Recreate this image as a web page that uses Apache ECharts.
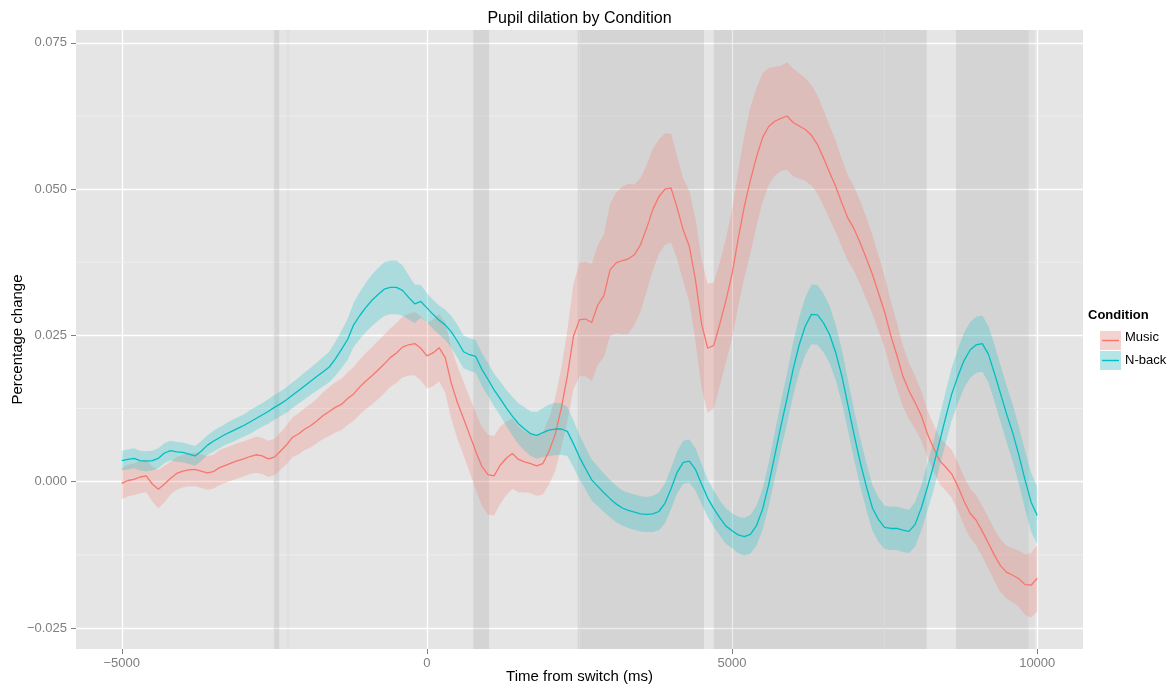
<!DOCTYPE html>
<html><head><meta charset="utf-8">
<script src="https://cdn.jsdelivr.net/npm/echarts@6/dist/echarts.min.js"></script>
<style>html,body{margin:0;padding:0;background:#fff}#c{width:1174px;height:686px}</style>
</head><body><div id="c"></div>
<script>
// ---- data ----
const times = [
-5000,-4900,-4800,-4700,-4600,-4500,-4400,-4300,-4200,-4100,
-4000,-3900,-3800,-3700,-3600,-3500,-3400,-3300,-3200,-3100,
-3000,-2900,-2800,-2700,-2600,-2500,-2400,-2300,-2200,-2100,
-2000,-1900,-1800,-1700,-1600,-1500,-1400,-1300,-1200,-1100,
-1000,-900,-800,-700,-600,-500,-400,-300,-200,-100,
0,100,200,300,400,500,600,700,800,900,
1000,1100,1200,1300,1400,1500,1600,1700,1800,1900,
2000,2100,2200,2300,2400,2500,2600,2700,2800,2900,
3000,3100,3200,3300,3400,3500,3600,3700,3800,3900,
4000,4100,4200,4300,4400,4500,4600,4700,4800,4900,
5000,5100,5200,5300,5400,5500,5600,5700,5800,5900,
6000,6100,6200,6300,6400,6500,6600,6700,6800,6900,
7000,7100,7200,7300,7400,7500,7600,7700,7800,7900,
8000,8100,8200,8300,8400,8500,8600,8700,8800,8900,
9000,9100,9200,9300,9400,9500,9600,9700,9800,9900,
10000];

const musicMean = [
-0.0003,0.0002,0.0004,0.0008,0.0010,-0.0004,-0.0013,-0.0004,0.0006,0.0014,
0.0018,0.0020,0.0021,0.0018,0.0015,0.0017,0.0024,0.0028,0.0032,0.0036,
0.0039,0.0043,0.0046,0.0044,0.0039,0.0042,0.0052,0.0063,0.0076,0.0082,
0.0090,0.0096,0.0104,0.0113,0.0120,0.0127,0.0132,0.0142,0.0150,0.0162,
0.0172,0.0181,0.0191,0.0201,0.0212,0.0220,0.0230,0.0234,0.0236,0.0228,
0.0215,0.0220,0.0229,0.0212,0.0168,0.0135,0.0108,0.0080,0.0052,0.0026,
0.0012,0.0010,0.0028,0.0040,0.0048,0.0038,0.0034,0.0031,0.0027,0.0031,
0.0052,0.0080,0.0125,0.0180,0.0248,0.0277,0.0278,0.0272,0.0302,0.0318,
0.0362,0.0374,0.0378,0.0381,0.0388,0.0405,0.0433,0.0465,0.0487,0.0500,
0.0502,0.0468,0.0430,0.0402,0.0345,0.0270,0.0228,0.0233,0.0270,0.0310,
0.0355,0.0415,0.0470,0.0515,0.0555,0.0588,0.0607,0.0616,0.0621,0.0625,
0.0614,0.0608,0.0602,0.0592,0.0576,0.0553,0.0528,0.0504,0.0476,0.0450,
0.0432,0.0408,0.0382,0.0354,0.0322,0.0290,0.0250,0.0216,0.0180,0.0155,
0.0135,0.0113,0.0082,0.0058,0.0036,0.0025,0.0013,-0.0008,-0.0033,-0.0054,
-0.0066,-0.0085,-0.0105,-0.0126,-0.0144,-0.0155,-0.0160,-0.0166,-0.0176,-0.0177,
-0.0165];

const musicSpread = [
0.0027,0.0027,0.0027,0.0028,0.0028,0.0030,0.0033,0.0031,0.0028,0.0028,
0.0028,0.0028,0.0029,0.0029,0.0029,0.0029,0.0030,0.0030,0.0030,0.0030,
0.0030,0.0030,0.0031,0.0031,0.0031,0.0031,0.0032,0.0033,0.0034,0.0035,
0.0036,0.0037,0.0038,0.0040,0.0042,0.0043,0.0044,0.0045,0.0046,0.0047,
0.0048,0.0049,0.0050,0.0050,0.0050,0.0051,0.0052,0.0053,0.0054,0.0055,
0.0056,0.0057,0.0058,0.0060,0.0061,0.0062,0.0063,0.0064,0.0066,0.0067,
0.0068,0.0068,0.0066,0.0063,0.0060,0.0056,0.0052,0.0051,0.0051,0.0053,
0.0057,0.0062,0.0068,0.0078,0.0090,0.0097,0.0098,0.0100,0.0102,0.0105,
0.0113,0.0120,0.0126,0.0128,0.0120,0.0114,0.0108,0.0104,0.0098,0.0095,
0.0093,0.0088,0.0088,0.0095,0.0105,0.0110,0.0110,0.0108,0.0105,0.0106,
0.0110,0.0115,0.0122,0.0125,0.0118,0.0110,0.0100,0.0093,0.0090,0.0092,
0.0092,0.0090,0.0088,0.0086,0.0084,0.0082,0.0080,0.0078,0.0075,0.0073,
0.0072,0.0071,0.0070,0.0067,0.0064,0.0061,0.0058,0.0056,0.0052,0.0048,
0.0045,0.0042,0.0040,0.0040,0.0040,0.0040,0.0041,0.0041,0.0042,0.0042,
0.0043,0.0043,0.0044,0.0044,0.0045,0.0045,0.0046,0.0048,0.0052,0.0055,
0.0057];

const nbackMean = [
0.0036,0.0038,0.0040,0.0036,0.0035,0.0036,0.0040,0.0049,0.0053,0.0051,
0.0050,0.0047,0.0044,0.0052,0.0062,0.0069,0.0075,0.0081,0.0086,0.0091,
0.0096,0.0102,0.0108,0.0114,0.0120,0.0127,0.0133,0.0140,0.0148,0.0156,
0.0164,0.0172,0.0180,0.0188,0.0196,0.0210,0.0226,0.0243,0.0268,0.0284,
0.0298,0.0310,0.0320,0.0329,0.0332,0.0332,0.0327,0.0315,0.0304,0.0308,
0.0297,0.0286,0.0276,0.0268,0.0256,0.0240,0.0222,0.0217,0.0214,0.0192,
0.0175,0.0157,0.0142,0.0126,0.0112,0.0099,0.0090,0.0082,0.0079,0.0084,
0.0088,0.0090,0.0090,0.0086,0.0065,0.0042,0.0022,0.0003,-0.0008,-0.0019,
-0.0029,-0.0038,-0.0045,-0.0049,-0.0052,-0.0055,-0.0056,-0.0055,-0.0051,-0.0037,
-0.0012,0.0016,0.0033,0.0035,0.0021,-0.0004,-0.0028,-0.0046,-0.0062,-0.0076,
-0.0084,-0.0091,-0.0094,-0.0090,-0.0075,-0.0047,-0.0005,0.0045,0.0095,0.0142,
0.0192,0.0234,0.0266,0.0286,0.0285,0.0271,0.0251,0.0220,0.0180,0.0130,
0.0080,0.0033,-0.0008,-0.0045,-0.0065,-0.0078,-0.0080,-0.0080,-0.0083,-0.0085,
-0.0073,-0.0045,-0.0010,0.0027,0.0068,0.0110,0.0150,0.0180,0.0207,0.0225,
0.0234,0.0236,0.0218,0.0185,0.0150,0.0115,0.0083,0.0045,0.0003,-0.0035,
-0.0058];

const nbackSpread = [
0.0017,0.0017,0.0017,0.0017,0.0017,0.0017,0.0017,0.0017,0.0017,0.0017,
0.0017,0.0017,0.0017,0.0017,0.0017,0.0018,0.0018,0.0018,0.0019,0.0019,
0.0019,0.0020,0.0020,0.0020,0.0021,0.0021,0.0021,0.0022,0.0022,0.0022,
0.0023,0.0023,0.0024,0.0025,0.0026,0.0029,0.0032,0.0035,0.0038,0.0040,
0.0042,0.0044,0.0045,0.0046,0.0046,0.0046,0.0043,0.0038,0.0033,0.0028,
0.0025,0.0025,0.0025,0.0026,0.0027,0.0028,0.0028,0.0028,0.0028,0.0028,
0.0028,0.0028,0.0029,0.0031,0.0033,0.0035,0.0037,0.0038,0.0040,0.0042,
0.0044,0.0045,0.0044,0.0042,0.0040,0.0038,0.0036,0.0035,0.0034,0.0033,
0.0032,0.0031,0.0030,0.0030,0.0030,0.0030,0.0030,0.0031,0.0032,0.0034,
0.0035,0.0036,0.0037,0.0037,0.0036,0.0034,0.0032,0.0031,0.0030,0.0030,
0.0030,0.0031,0.0032,0.0033,0.0034,0.0035,0.0037,0.0039,0.0041,0.0043,
0.0045,0.0047,0.0049,0.0051,0.0051,0.0050,0.0049,0.0047,0.0045,0.0043,
0.0042,0.0041,0.0040,0.0039,0.0038,0.0037,0.0037,0.0037,0.0037,0.0037,
0.0038,0.0039,0.0040,0.0042,0.0043,0.0044,0.0045,0.0046,0.0047,0.0048,
0.0048,0.0048,0.0048,0.0048,0.0048,0.0048,0.0049,0.0049,0.0050,0.0050,
0.0050];

// shaded time windows (ms)
const bandStart = [-2510, 760, 2470, 4700, 8670];
const bandEnd   = [-2420, 1020, 4540, 8190, 9860];
const faintStart = [-2300, 9860];
const faintEnd   = [-2250, 9960];

const xTicks = [-5000, 0, 5000, 10000];
const xMinor = [-2500, 2500, 7500];
const yTicks = [-0.025, 0, 0.025, 0.05, 0.075];
const yMinor = [-0.0125, 0.0125, 0.0375, 0.0625];
const seriesNames = ['Music', 'N-back'];

// ---- chart ----
const FONT = '"Liberation Sans", Arial, Helvetica, sans-serif';
const RED = '#F8766D', CYAN = '#00BFC4';
const RED_FILL = 'rgba(248,118,109,0.25)', CYAN_FILL = 'rgba(0,191,196,0.25)';
const X_MIN = -5750, X_MAX = 10750, Y_MIN = -0.0286, Y_MAX = 0.0772;

const n = Math.min(times.length, musicMean.length, musicSpread.length, nbackMean.length, nbackSpread.length);
function ribbonRows(mean, spread) {
  const rows = [];
  for (let i = 0; i < n; i++) rows.push([times[i], mean[i] - spread[i], mean[i] + spread[i]]);
  return rows;
}
const musicRows = ribbonRows(musicMean, musicSpread);
const nbackRows = ribbonRows(nbackMean, nbackSpread);

function ribbonRender(rows, fill) {
  return function (params, api) {
    if (params.dataIndex !== 0) return null;
    const pts = [];
    for (let i = 0; i < rows.length; i++) pts.push(api.coord([rows[i][0], rows[i][2]]));
    for (let i = rows.length - 1; i >= 0; i--) pts.push(api.coord([rows[i][0], rows[i][1]]));
    return { type: 'polygon', shape: { points: pts }, style: { fill: fill }, silent: true };
  };
}
function bandRender(fill) {
  return function (params, api) {
    const cs = params.coordSys;
    const a = api.coord([api.value(0), Y_MAX]);
    const b = api.coord([api.value(1), Y_MAX]);
    return { type: 'rect', shape: { x: a[0], y: cs.y, width: b[0] - a[0], height: cs.height }, style: { fill: fill }, silent: true };
  };
}
function vLineRender(params, api) {
  const cs = params.coordSys;
  const p = api.coord([api.value(0), Y_MAX]);
  return { type: 'line', shape: { x1: p[0], y1: cs.y, x2: p[0], y2: cs.y + cs.height }, style: { stroke: '#F0F0F0', lineWidth: 0.8 }, silent: true };
}
function hLineRender(params, api) {
  const cs = params.coordSys;
  const p = api.coord([X_MIN, api.value(1)]);
  return { type: 'line', shape: { x1: cs.x, y1: p[1], x2: cs.x + cs.width, y2: p[1] }, style: { stroke: '#F0F0F0', lineWidth: 0.8 }, silent: true };
}
const fmtY = v => (v < -1e-9 ? '\u2212' : '') + Math.abs(v).toFixed(3);
const fmtX = v => (v < 0 ? '\u2212' : '') + Math.abs(v);

const chart = echarts.init(document.getElementById('c'), null, { renderer: 'canvas' });
chart.setOption({
  animation: false,
  grid: { left: 76, right: 91, top: 30, bottom: 37, show: true, backgroundColor: '#E5E5E5', borderWidth: 0 },
  xAxis: {
    type: 'value', min: X_MIN, max: X_MAX,
    axisLine: { show: false, onZero: false },
    axisTick: { show: true, length: 5, customValues: xTicks, lineStyle: { color: '#7F7F7F', width: 1 } },
    axisLabel: { customValues: xTicks, formatter: fmtX, color: '#7F7F7F', fontSize: 13, fontFamily: FONT, margin: 8 },
    splitLine: { show: true, lineStyle: { color: '#FFFFFF', width: 1.3 } }
  },
  yAxis: {
    type: 'value', min: Y_MIN, max: Y_MAX,
    axisLine: { show: false, onZero: false },
    axisTick: { show: true, length: 5, customValues: yTicks, lineStyle: { color: '#7F7F7F', width: 1 } },
    axisLabel: { customValues: yTicks, formatter: fmtY, color: '#7F7F7F', fontSize: 13, fontFamily: FONT, margin: 9 },
    splitLine: { show: true, lineStyle: { color: '#FFFFFF', width: 1.3 } }
  },
  series: [
    { type: 'custom', z: 1, data: xMinor.map(v => [v, 0]), renderItem: vLineRender, silent: true },
    { type: 'custom', z: 1, data: yMinor.map(v => [0, v]), renderItem: hLineRender, silent: true },
    { type: 'custom', z: 2, data: bandStart.map((s, i) => [s, bandEnd[i]]), encode: { x: [0, 1] }, renderItem: bandRender('rgba(0,0,0,0.075)'), silent: true },
    { type: 'custom', z: 2, data: faintStart.map((s, i) => [s, faintEnd[i]]), encode: { x: [0, 1] }, renderItem: bandRender('rgba(0,0,0,0.025)'), silent: true },
    { type: 'custom', name: seriesNames[0] + ' band', z: 3, data: musicRows, encode: { x: 0, y: [1, 2] }, renderItem: ribbonRender(musicRows, RED_FILL), silent: true },
    { type: 'custom', name: seriesNames[1] + ' band', z: 3, data: nbackRows, encode: { x: 0, y: [1, 2] }, renderItem: ribbonRender(nbackRows, CYAN_FILL), silent: true },
    { type: 'line', name: seriesNames[0], z: 4, data: musicRows.map((r, i) => [r[0], musicMean[i]]), showSymbol: false, lineStyle: { color: RED, width: 1.3 }, itemStyle: { color: RED }, silent: true },
    { type: 'line', name: seriesNames[1], z: 4, data: nbackRows.map((r, i) => [r[0], nbackMean[i]]), showSymbol: false, lineStyle: { color: CYAN, width: 1.3 }, itemStyle: { color: CYAN }, silent: true }
  ],
  graphic: [
    { type: 'text', x: 579.5, y: 19, style: { text: 'Pupil dilation by Condition', fill: '#000', font: '16px ' + FONT, align: 'center', verticalAlign: 'middle' } },
    { type: 'text', x: 579.5, y: 677, style: { text: 'Time from switch (ms)', fill: '#000', font: '15px ' + FONT, align: 'center', verticalAlign: 'middle' } },
    { type: 'text', x: 18, y: 339.5, rotation: Math.PI / 2, style: { text: 'Percentage change', fill: '#000', font: '15px ' + FONT, align: 'center', verticalAlign: 'middle' } },
    { type: 'text', x: 1088, y: 315, style: { text: 'Condition', fill: '#000', font: 'bold 13px ' + FONT, align: 'left', verticalAlign: 'middle' } },
    { type: 'rect', shape: { x: 1100, y: 331, width: 21, height: 19 }, style: { fill: '#F2F2F2' } },
    { type: 'rect', shape: { x: 1100, y: 331, width: 21, height: 19 }, style: { fill: RED_FILL } },
    { type: 'line', shape: { x1: 1102, y1: 340.5, x2: 1119, y2: 340.5 }, style: { stroke: RED, lineWidth: 1.4 } },
    { type: 'text', x: 1125, y: 337, style: { text: seriesNames[0], fill: '#000', font: '13px ' + FONT, align: 'left', verticalAlign: 'middle' } },
    { type: 'rect', shape: { x: 1100, y: 351, width: 21, height: 19 }, style: { fill: '#F2F2F2' } },
    { type: 'rect', shape: { x: 1100, y: 351, width: 21, height: 19 }, style: { fill: CYAN_FILL } },
    { type: 'line', shape: { x1: 1102, y1: 360.5, x2: 1119, y2: 360.5 }, style: { stroke: CYAN, lineWidth: 1.4 } },
    { type: 'text', x: 1125, y: 360, style: { text: seriesNames[1], fill: '#000', font: '13px ' + FONT, align: 'left', verticalAlign: 'middle' } }
  ]
});
</script>
</body></html>
